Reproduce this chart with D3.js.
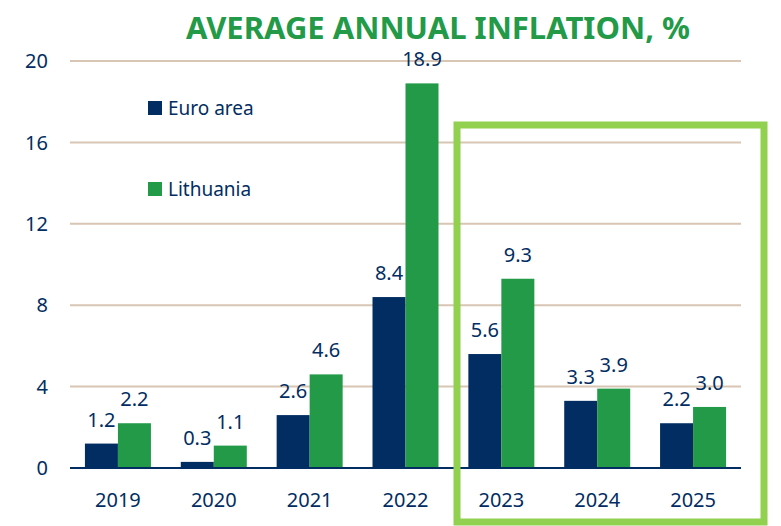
<!DOCTYPE html>
<html>
<head>
<meta charset="utf-8">
<script src="https://cdn.jsdelivr.net/npm/d3@7"></script>
<style>
  body { margin: 0; background: #fff; }
  text { font-family: "Noto Sans", "Open Sans", sans-serif; }
</style>
</head>
<body>
<div class="app"></div>
<script>
// chart data
var years = ["2019", "2020", "2021", "2022", "2023", "2024", "2025"];
var euroArea = [1.2, 0.3, 2.6, 8.4, 5.6, 3.3, 2.2];
var lithuania = [2.2, 1.1, 4.6, 18.9, 9.3, 3.9, 3.0];
var yTicks = [0, 4, 8, 12, 16, 20];
var seriesNames = ["Euro area", "Lithuania"];
var seriesColors = ["#022d62", "#229a48"];
var title = "AVERAGE ANNUAL INFLATION, %";

var width = 781, height = 526;
var margin = {top: 61, right: 40, bottom: 58, left: 70};

var svg = d3.select(".app").append("svg")
    .attr("width", width)
    .attr("height", height);

var x = d3.scaleBand().domain(years).range([margin.left, width - margin.right]),
    x1 = d3.scaleBand().domain(seriesNames).range([0, 66]),
    y = d3.scaleLinear().domain([0, 20]).range([height - margin.bottom, margin.top]);

// gridlines
svg.append("g").selectAll("line")
    .data(yTicks.filter(function(d){ return d > 0; }))
    .enter().append("line")
    .attr("x1", margin.left)
    .attr("x2", width - margin.right)
    .attr("y1", function(d){ return y(d); })
    .attr("y2", function(d){ return y(d); })
    .attr("stroke", "#d8c5b3")
    .attr("stroke-width", 2);

// y tick labels
svg.append("g").selectAll("text")
    .data(yTicks)
    .enter().append("text")
    .attr("x", 48)
    .attr("y", function(d){ return y(d); })
    .attr("dy", "0.36em")
    .attr("text-anchor", "end")
    .attr("font-size", 20)
    .attr("fill", "#022d62")
    .text(function(d){ return d; });

var rows = years.map(function(yr, i){
    return {year: yr, values: [euroArea[i], lithuania[i]]};
});

var groups = svg.append("g").selectAll("g")
    .data(rows)
    .enter().append("g")
    .attr("transform", function(d){ return "translate(" + (x(d.year) + (x.bandwidth() - 66) / 2) + ",0)"; });

groups.selectAll("rect")
    .data(function(d){ return d.values.map(function(v, j){ return {name: seriesNames[j], value: v, i: j}; }); })
    .enter().append("rect")
    .attr("x", function(d){ return x1(d.name); })
    .attr("width", x1.bandwidth())
    .attr("y", function(d){ return y(d.value); })
    .attr("height", function(d){ return y(0) - y(d.value); })
    .attr("fill", function(d){ return seriesColors[d.i]; });

groups.selectAll("text")
    .data(function(d){ return d.values.map(function(v, j){ return {name: seriesNames[j], value: v}; }); })
    .enter().append("text")
    .attr("x", function(d){ return x1(d.name) + x1.bandwidth() / 2; })
    .attr("y", function(d){ return y(d.value) - 17; })
    .attr("text-anchor", "middle")
    .attr("font-size", 20)
    .attr("fill", "#022d62")
    .text(function(d){ return d.value.toFixed(1); });

// zero axis line
svg.append("line")
    .attr("x1", margin.left)
    .attr("x2", width - margin.right)
    .attr("y1", y(0))
    .attr("y2", y(0))
    .attr("stroke", "#022d62")
    .attr("stroke-width", 2);

// x labels
svg.append("g").selectAll("text")
    .data(years)
    .enter().append("text")
    .attr("x", function(d){ return x(d) + x.bandwidth() / 2; })
    .attr("y", 507)
    .attr("text-anchor", "middle")
    .attr("font-size", 20)
    .attr("fill", "#022d62")
    .text(function(d){ return d; });

// legend
var legend = svg.append("g").selectAll("g")
    .data(seriesNames)
    .enter().append("g")
    .attr("transform", function(d, i){ return "translate(148," + (101 + i * 81) + ")"; });

legend.append("rect")
    .attr("width", 14)
    .attr("height", 14)
    .attr("fill", function(d, i){ return seriesColors[i]; });

legend.append("text")
    .attr("x", 20)
    .attr("y", 14)
    .attr("font-size", 19)
    .attr("fill", "#022d62")
    .text(function(d){ return d; });

// title
svg.append("text")
    .attr("x", 186)
    .attr("y", 39)
    .attr("font-size", 31)
    .attr("font-weight", "bold")
    .attr("fill", "#229a48")
    .attr("textLength", 504)
    .attr("lengthAdjust", "spacingAndGlyphs")
    .text(title);

// forecast highlight box
svg.append("rect")
    .attr("x", 457)
    .attr("y", 125)
    .attr("width", 307)
    .attr("height", 397)
    .attr("fill", "none")
    .attr("stroke", "#92d050")
    .attr("stroke-width", 7);
</script>
</body>
</html>
